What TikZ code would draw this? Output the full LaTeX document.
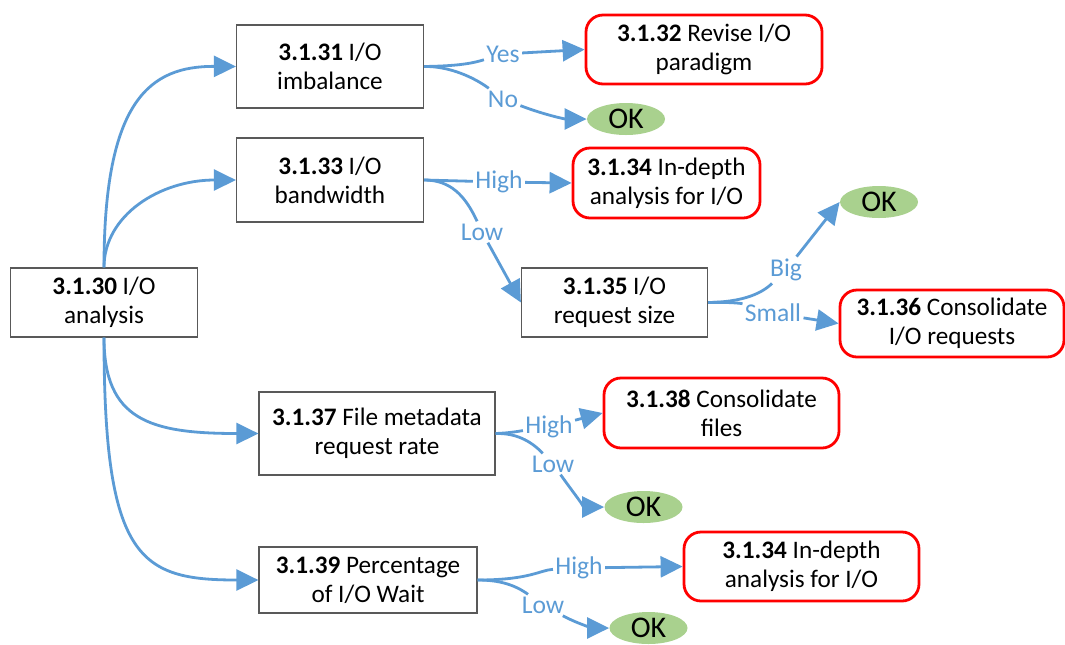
\documentclass[tikz,border=0pt]{standalone}
\usepackage{fontspec}
\setmainfont{Carlito}
\usetikzlibrary{arrows.meta,shapes.geometric}
\definecolor{lineblue}{HTML}{5B9BD5}
\definecolor{okgreen}{HTML}{A9D18E}
\definecolor{boxgray}{HTML}{595959}
\begin{document}
\begin{tikzpicture}[x=0.5pt,y=-0.5pt,
  txt/.style={font=\fontsize{12.6}{14.6}\selectfont},
  box/.style={txt, draw=boxgray, line width=0.6pt, fill=white, rectangle, align=center, inner sep=2pt},
  endbox/.style={txt, draw=red, line width=1.4pt, rounded corners=8.5pt, fill=white, align=center, inner sep=2pt},
  okell/.style={ellipse, fill=okgreen, minimum width=39pt, minimum height=16pt, inner sep=0pt, font=\fontsize{15}{17}\selectfont},
  lbl/.style={text=lineblue, font=\fontsize{12.8}{14}\selectfont, inner sep=1pt},
  conn/.style={draw=lineblue, line width=1.4pt},
  arr/.style={conn, -{Triangle[length=11pt,width=10.5pt]}},
]
\useasboundingbox (0,0) rectangle (1065,644);

% main boxes
\node[box, minimum width=93.5pt, minimum height=34.5pt] (A) at (104,302.5) {\textbf{3.1.30} I/O\\analysis};
\node[box, minimum width=93.5pt, minimum height=41.5pt] (B) at (330,66.5) {\textbf{3.1.31} I/O\\imbalance};
\node[box, minimum width=93.5pt, minimum height=42pt] (C) at (330,180) {\textbf{3.1.33} I/O\\bandwidth};
\node[box, minimum width=93pt, minimum height=34.5pt] (D) at (614.5,302.5) {\textbf{3.1.35} I/O\\request size};
\node[box, minimum width=118pt, minimum height=41.5pt] (E) at (377,433.5) {\textbf{3.1.37} File metadata\\request rate};
\node[box, minimum width=109pt, minimum height=33pt] (F) at (368,580) {\textbf{3.1.39} Percentage\\of I/O Wait};

% result boxes
\node[endbox, minimum width=118pt, minimum height=34.5pt] (G) at (704,49.5) {\textbf{3.1.32} Revise I/O\\paradigm};
\node[endbox, minimum width=93.5pt, minimum height=35pt] (H) at (666.5,183) {\textbf{3.1.34} In-depth\\analysis for I/O};
\node[endbox, minimum width=112pt, minimum height=33.5pt] (I) at (952,323.5) {\textbf{3.1.36} Consolidate\\I/O requests};
\node[endbox, minimum width=117.5pt, minimum height=35pt] (J) at (721.5,413) {\textbf{3.1.38} Consolidate\\files};
\node[endbox, minimum width=117.5pt, minimum height=34.5pt] (K) at (801.5,566.5) {\textbf{3.1.34} In-depth\\analysis for I/O};

% OK ellipses
\node[okell] (OK1) at (626,119) {OK};
\node[okell] (OK2) at (879,202) {OK};
\node[okell] (OK3) at (643.5,507) {OK};
\node[okell] (OK4) at (648.5,628) {OK};

% labels
\node[lbl] (yes) at (503,54) {Yes};
\node[lbl] (no) at (503,99) {No};
\node[lbl] (high1) at (499,182) {High};
\node[lbl] (low1) at (482,232) {Low};
\node[lbl] (big) at (786,270) {Big};
\node[lbl] (small) at (773,313) {Small};
\node[lbl] (high2) at (549,427) {High};
\node[lbl] (low2) at (553,464) {Low};
\node[lbl] (high3) at (579,568) {High};
\node[lbl] (low3) at (543,605) {Low};

% connectors from A
\draw[arr] (A.north) .. controls (104,100) and (150,66) .. (B.west);
\draw[arr] (A.north) .. controls (104,215) and (160,180) .. (C.west);
\draw[arr] (A.south) .. controls (104,420) and (150,433.5) .. (E.west);
\draw[arr] (A.south) .. controls (104,560) and (140,580) .. (F.west);

% B branches
\draw[conn] (B.east) .. controls (455,66) and (470,64) .. (yes);
\draw[arr] (yes) -- (G.west);
\draw[conn] (B.east) .. controls (450,66) and (475,78) .. (no);
\draw[arr] (no) .. controls (545,115) and (565,119) .. (OK1.west);

% C branches
\draw[conn] (C.east) -- (high1);
\draw[arr] (high1) -- (H.west);
\draw[conn] (C.east) .. controls (450,180) and (465,195) .. (low1);
\draw[arr] (low1) -- (D.west);

% D branches
\draw[conn] (D.east) .. controls (740,302) and (760,295) .. (big);
\draw[arr] (big) -- (OK2.west);
\draw[conn] (D.east) .. controls (725,302) and (740,303) .. (small);
\draw[arr] (small) -- (I.west);

% E branches
\draw[conn] (E.east) .. controls (510,433) and (520,431) .. (high2);
\draw[arr] (high2) -- (J.west);
\draw[conn] (E.east) .. controls (515,433) and (530,440) .. (low2);
\draw[arr] (low2) .. controls (575,495) and (585,507) .. (OK3.west);

% F branches
\draw[conn] (F.east) .. controls (530,580) and (540,570) .. (high3);
\draw[arr] (high3) -- (K.west);
\draw[conn] (F.east) .. controls (500,580) and (515,585) .. (low3);
\draw[arr] (low3) .. controls (580,625) and (595,628) .. (OK4.west);
\end{tikzpicture}
\end{document}
